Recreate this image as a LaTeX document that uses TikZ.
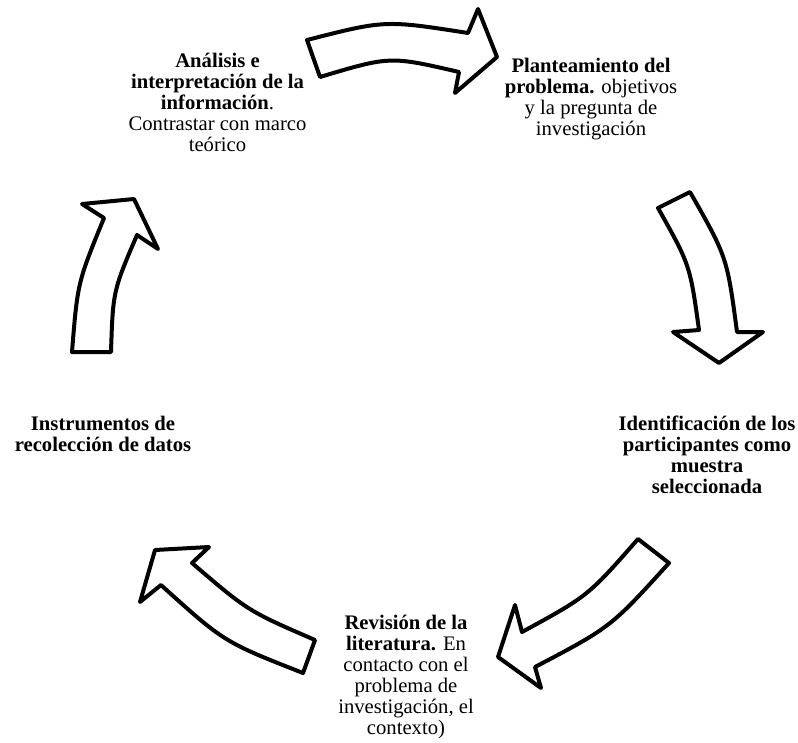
\documentclass[tikz,border=0pt]{standalone}
\usepackage{fontspec}
\setmainfont{Liberation Serif}
\begin{document}
\begin{tikzpicture}[x=0.75pt,y=-0.75pt,
  cyclearrow/.style={draw=black, fill=white, line width=3pt, line join=round},
  cyctext/.style={align=center, inner sep=0pt, anchor=base, font=\fontsize{15.5pt}{15.75pt}\selectfont}]
\useasboundingbox (0,0) rectangle (798,742);

% arrow 1 (top, pointing right)
\draw[cyclearrow] (307,40) .. controls (385,20) .. (468,33) -- (478,9) -- (497,57) -- (455,93) -- (459,72) .. controls (390,56) .. (320,77) -- cycle;
% arrow 2 (right, pointing down)
\draw[cyclearrow] (658,208) -- (690,192) .. controls (727,257) .. (737,332) -- (763,332) -- (719,363) -- (673,332) -- (699,330) .. controls (690,265) .. (658,208) -- cycle;
% arrow 3 (bottom right, pointing down-left)
\draw[cyclearrow] (638,539) -- (669,563) .. controls (611,627) .. (535,667) -- (541,688) -- (498,657) -- (515,605) -- (522,632) .. controls (588,596) .. (638,539) -- cycle;
% arrow 4 (bottom left, pointing up-left)
\draw[cyclearrow] (315,640) .. controls (248,611) .. (192,563) -- (209,547) -- (155,550) -- (140,602) -- (161,585) .. controls (224,642) .. (303,673) -- cycle;
% arrow 5 (left, pointing up)
\draw[cyclearrow] (72,352) .. controls (77.6,282.5) .. (104,218) -- (82,204) -- (134,199) -- (158,249) -- (137,235) .. controls (113,291) .. (111,352) -- cycle;

% anchor=base is the baseline of the last line
\node[cyctext] (analisis) at (217.5,151) {\textbf{Análisis e}\\\textbf{interpretación de la}\\\textbf{información}.\\Contrastar con marco\\teórico};
\node[cyctext] (plant) at (591,135.5) {\textbf{Planteamiento del}\\\textbf{problema.} objetivos\\y la pregunta de\\investigación};
\node[cyctext] (ident) at (707,493) {\textbf{Identificación de los}\\\textbf{participantes como}\\\textbf{muestra}\\\textbf{seleccionada}};
\node[cyctext] (revision) at (406,734) {\textbf{Revisión de la}\\\textbf{literatura.} En\\contacto con el\\problema de\\investigación, el\\contexto)};
\node[cyctext] (instr) at (103,451) {\textbf{Instrumentos de}\\\textbf{recolección de datos}};
\end{tikzpicture}
\end{document}
